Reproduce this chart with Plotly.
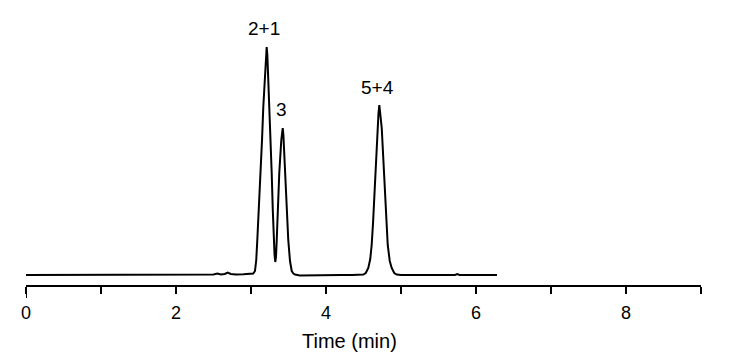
import plotly.graph_objects as go

# Retention time (min) and detector signal (arbitrary units above baseline)
time_min = [0.0, 0.5, 1.0, 1.5, 2.0, 2.4, 2.5, 2.55, 2.6, 2.65, 2.69, 2.73, 2.8, 2.9,
            3.0, 3.03, 3.053, 3.07, 3.084, 3.105, 3.129, 3.147, 3.164, 3.187, 3.2, 3.209,
            3.218, 3.23, 3.244, 3.26, 3.276, 3.29, 3.303, 3.314, 3.324, 3.333, 3.343,
            3.36, 3.377, 3.404, 3.415, 3.423, 3.432, 3.453, 3.475, 3.497, 3.52, 3.543,
            3.565, 3.587, 3.65, 3.8, 3.9, 4.0, 4.2, 4.35, 4.45, 4.497, 4.53, 4.564, 4.59,
            4.609, 4.627, 4.644, 4.667, 4.689, 4.7, 4.711, 4.722, 4.743, 4.765, 4.787,
            4.805, 4.823, 4.85, 4.876, 4.91, 4.943, 5.0, 5.3, 5.6, 5.72, 5.75, 5.78,
            6.0, 6.28]
signal = [0.0, 0.0, 0.0, 0.0, 0.0, 0.0, 0.5, 1.5, 0.5, 1.0, 2.5, 1.0, 0.5, 0.8,
          1.0, 1.5, 4.0, 15.0, 35.0, 65.0, 102.0, 135.0, 168.0, 201.0, 220.0, 228.0,
          220.0, 198.0, 168.0, 135.0, 102.0, 66.0, 35.0, 20.0, 13.0, 18.0, 35.0,
          68.0, 102.0, 135.0, 144.0, 147.0, 140.0, 102.0, 66.0, 35.0, 14.0, 4.0,
          1.5, 0.5, -0.5, -0.3, 0.3, -0.2, 0.0, 0.0, 0.0, 0.5, 2.0, 7.0, 16.0,
          30.0, 52.0, 80.0, 115.0, 147.0, 162.0, 170.0, 163.0, 147.0, 115.0, 80.0,
          52.0, 30.0, 14.0, 7.0, 2.0, 0.5, 0.0, 0.0, 0.0, 0.0, 1.0, 0.0,
          0.0, 0.0]

peak_labels = ["2+1", "3", "5+4"]
peak_label_x = [3.173, 3.409, 4.689]
peak_label_y = [247, 166, 188]

tick_vals = [0, 1, 2, 3, 4, 5, 6, 7, 8, 9]
tick_text = ["0", "", "2", "", "4", "", "6", "", "8", ""]

x_title = "Time (min)"

FONT = "Liberation Sans, Arial, sans-serif"

fig = go.Figure()
fig.add_trace(go.Scatter(x=time_min, y=signal, mode="lines",
                         line=dict(color="black", width=2), hoverinfo="skip"))

for lab, lx, ly in zip(peak_labels, peak_label_x, peak_label_y):
    fig.add_annotation(x=lx, y=ly, text=lab, showarrow=False,
                       font=dict(family=FONT, size=19, color="black"))

# axis title (placed as annotation, slightly left of the axis centre as in the original)
fig.add_annotation(x=4.31, xref="x", y=-0.204, yref="paper", text=x_title,
                   showarrow=False, xanchor="center", yanchor="middle",
                   font=dict(family=FONT, size=20, color="black"))

# longer end tick at the axis origin
fig.add_shape(type="line", xref="x", yref="paper", x0=0, x1=0, y0=0, y1=-0.047,
              line=dict(color="black", width=2))

fig.update_layout(
    width=729, height=357,
    margin=dict(l=26, r=28, t=10, b=72),
    plot_bgcolor="white", paper_bgcolor="white",
    showlegend=False,
    font=dict(family=FONT, size=18, color="black"),
    xaxis=dict(range=[0, 9], tickvals=tick_vals, ticktext=tick_text,
               ticks="outside", ticklen=7, tickwidth=2, tickcolor="black",
               showline=True, linewidth=2, linecolor="black", automargin=False,
               showgrid=False, zeroline=False, ticklabelstandoff=3,
               tickfont=dict(size=18)),
    yaxis=dict(range=[-10, 265], visible=False, showgrid=False, zeroline=False,
               automargin=False),
)

fig.write_html("out.html")
